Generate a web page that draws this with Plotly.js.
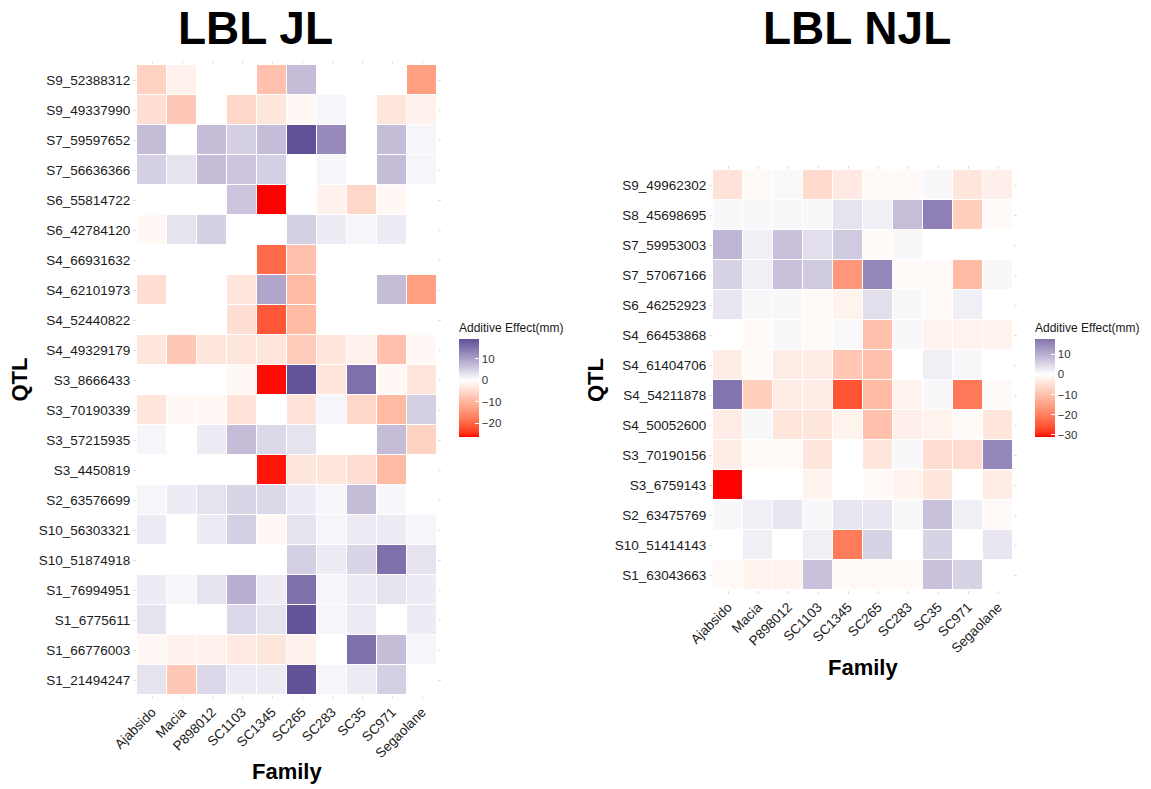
<!DOCTYPE html>
<html>
<head>
<meta charset="utf-8">
<script src="https://cdn.plot.ly/plotly-3.0.1.min.js"></script>
<style>
  html, body { margin: 0; padding: 0; background: #ffffff; }
  #chart { width: 1151px; height: 789px; }
</style>
</head>
<body>
<div id="chart"></div>
<script>
// Families (columns), shared by both panels
const families = ['Ajabsido', 'Macia', 'P898012', 'SC1103', 'SC1345', 'SC265', 'SC283', 'SC35', 'SC971', 'Segaolane'];

// LBL JL: QTL rows (top to bottom) and additive effects (mm); null = not detected
const jlQtl = [
  'S9_52388312', 'S9_49337990', 'S7_59597652', 'S7_56636366', 'S6_55814722', 'S6_42784120',
  'S4_66931632', 'S4_62101973', 'S4_52440822', 'S4_49329179', 'S3_8666433', 'S3_70190339',
  'S3_57215935', 'S3_4450819', 'S2_63576699', 'S10_56303321', 'S10_51874918', 'S1_76994951',
  'S1_6775611', 'S1_66776003', 'S1_21494247'
];
const jlEffect = [
  [-6, -2, null, null, -8.5, 7, null, null, null, -13],
  [-4.5, -7.5, null, -5.5, -3.5, -1, 1, null, -3.5, -2],
  [7, null, 7, 5, 7, 19.3, 12.5, null, 7, 1],
  [5, 3, 7, 6, 5, null, 1, null, 7, 1],
  [null, null, null, 6, -26.5, null, -2, -5.5, -1, null],
  [-1, 3, 5, null, null, 5, 2, 1, 2, null],
  [null, null, null, null, -19.5, -8.5, null, null, null, null],
  [-4.5, null, null, -3.5, 9.5, -9.5, null, null, 7, -13],
  [null, null, null, -4.5, -21.5, -9.5, null, null, null, null],
  [-3.5, -7.5, -3.5, -3.5, -3.5, -7, -3.5, -2, -8.5, -1],
  [null, null, null, -1, -26.2, 19.0, -3.5, 15.5, -1, -3.5],
  [-3.5, -1, -1, -4, null, -4, 1, -5.5, -9.5, 5],
  [1, null, 2, 7, 4, 3, null, null, 7, -6],
  [null, null, null, null, -25.9, -3.5, -3.5, -4.5, -9.5, null],
  [1, 2, 3, 4.5, 4, 2, 1, 7, 0.8, null],
  [2, null, 2, 5, -1, 3, 1, 2, 2, 1],
  [null, null, null, null, null, 5, 2, 4.5, 15.5, 3],
  [2, 1, 3, 8.5, 2, 15.5, 1, 2, 3, 2],
  [3, null, null, 4, 3, 18.8, 1, 2, null, 2],
  [-1, -2, -2, -3, -3.5, -2, null, 15.5, 7, 1],
  [3, -7.5, 4, 2, 2, 19.1, 1, 2, 5, null]
];

// LBL NJL: QTL rows (top to bottom) and additive effects (mm)
const njlQtl = [
  'S9_49962302', 'S8_45698695', 'S7_59953003', 'S7_57067166', 'S6_46252923', 'S4_66453868',
  'S4_61404706', 'S4_54211878', 'S4_50052600', 'S3_70190156', 'S3_6759143', 'S2_63475769',
  'S10_51414143', 'S1_63043663'
];
const njlEffect = [
  [-4.5, -1, 0.8, -6, -3.5, -1, -1, 1, -4, -2.5],
  [1, 1, 1, 1, 3.5, 2, 8, 16, -8, -1],
  [9, 2, 7.5, 4, 6.5, -1, 1, null, null, null],
  [5.5, 2, 7.5, 6.5, -16.5, 15, -1, -1, -11, 1],
  [3, 1, 1, -1, -2, 4, 1, -1, 2, null],
  [null, -1, 1, -1, 0.8, -10, 1, -2, -2, -2],
  [-3, -1, -3, -3, -9, -10, null, 2, 1, null],
  [17.5, -8, -3, -3, -25.5, -11, -2, 1, -21, -1],
  [-3, 1, -4, -4, -2, -10, -2.5, -2, -1, -4],
  [-3, -1, -1, -4, null, -4, 1, -5.5, -5.5, 15],
  [-31, null, null, -2, null, -1, -2, -4, null, -3],
  [1, 2, 3, 1, 3, 3, 1, 7.5, 2, -1],
  [null, 2, null, 2, -20.5, 5.5, null, 5.5, null, 3],
  [-1, -2, -2, 7.5, -1, -1, -1, 7.5, 5.5, null]
];

const jlTicks = [-20, -10, 0, 10];
const njlTicks = [-30, -20, -10, 0, 10];

// ---- diverging palette: red / white / midnightblue, interpolated in CIELAB ----
function hexToRgb(h) {
  return [parseInt(h.slice(1, 3), 16), parseInt(h.slice(3, 5), 16), parseInt(h.slice(5, 7), 16)];
}
function rgbToLab(rgb) {
  const lin = rgb.map(c => { c /= 255; return c <= 0.04045 ? c / 12.92 : Math.pow((c + 0.055) / 1.055, 2.4); });
  const X = (0.4124 * lin[0] + 0.3576 * lin[1] + 0.1805 * lin[2]) / 0.95047;
  const Y = (0.2126 * lin[0] + 0.7152 * lin[1] + 0.0722 * lin[2]);
  const Z = (0.0193 * lin[0] + 0.1192 * lin[1] + 0.9505 * lin[2]) / 1.08883;
  const f = t => t > 0.008856 ? Math.cbrt(t) : 7.787 * t + 16 / 116;
  const fx = f(X), fy = f(Y), fz = f(Z);
  return [116 * fy - 16, 500 * (fx - fy), 200 * (fy - fz)];
}
function labToRgb(lab) {
  const fy = (lab[0] + 16) / 116, fx = fy + lab[1] / 500, fz = fy - lab[2] / 200;
  const fi = t => t * t * t > 0.008856 ? t * t * t : (t - 16 / 116) / 7.787;
  const X = fi(fx) * 0.95047, Y = fi(fy), Z = fi(fz) * 1.08883;
  const lin = [
    3.2406 * X - 1.5372 * Y - 0.4986 * Z,
    -0.9689 * X + 1.8758 * Y + 0.0415 * Z,
    0.0557 * X - 0.2040 * Y + 1.0570 * Z
  ];
  return lin.map(c => {
    c = Math.min(1, Math.max(0, c));
    c = c <= 0.0031308 ? 12.92 * c : 1.055 * Math.pow(c, 1 / 2.4) - 0.055;
    return Math.round(c * 255);
  });
}
const LOW = rgbToLab(hexToRgb('#ff0000'));
const MID = rgbToLab(hexToRgb('#ffffff'));
const HIGH = rgbToLab(hexToRgb('#191970'));

function divergingScale(zmin, zmax) {
  const maxAbs = Math.max(Math.abs(zmin), Math.abs(zmax));
  const n = 48, stops = [];
  for (let i = 0; i <= n; i++) {
    const s = i / n;
    const v = zmin + s * (zmax - zmin);
    const p = v / maxAbs;
    const end = p < 0 ? LOW : HIGH;
    const t = Math.abs(p);
    const lab = MID.map((m, k) => m + (end[k] - m) * t);
    const rgb = labToRgb(lab);
    stops.push([s, 'rgb(' + rgb.join(',') + ')']);
  }
  return stops;
}
function range2d(z) {
  const flat = z.flat().filter(v => v !== null);
  return [Math.min(...flat), Math.max(...flat)];
}

// ---- layout geometry (pixels) ----
const W = 1151, H = 789;
const px = x => x / W;
const py = y => 1 - y / H;
const FONT = '"Liberation Sans", Arial, Helvetica, sans-serif';

const [jlMin, jlMax] = range2d(jlEffect);
const [njMin, njMax] = range2d(njlEffect);

function colorbar(xLeft, ticks) {
  return {
    title: { text: 'Additive Effect(mm)', side: 'top', font: { family: FONT, size: 12, color: '#1a1a1a' } },
    x: px(xLeft), xanchor: 'left', xpad: 0,
    y: py(320), yanchor: 'top', ypad: 0,
    len: 117, lenmode: 'pixels',
    thickness: 20, thicknessmode: 'pixels',
    outlinewidth: 0,
    tickmode: 'array', tickvals: ticks,
    ticks: 'inside', ticklen: 4, tickcolor: '#ffffff', tickwidth: 1,
    tickfont: { family: FONT, size: 11.5, color: '#333333' }
  };
}

const traces = [
  {
    type: 'heatmap',
    x: families, y: jlQtl, z: jlEffect,
    xaxis: 'x', yaxis: 'y',
    zmin: jlMin, zmax: jlMax,
    colorscale: divergingScale(jlMin, jlMax),
    xgap: 1, ygap: 1,
    colorbar: colorbar(459, jlTicks),
    hovertemplate: '%{y}<br>%{x}: %{z}<extra></extra>'
  },
  {
    type: 'heatmap',
    x: families, y: njlQtl, z: njlEffect,
    xaxis: 'x2', yaxis: 'y2',
    zmin: njMin, zmax: njMax,
    colorscale: divergingScale(njMin, njMax),
    xgap: 1, ygap: 1,
    colorbar: colorbar(1035, njlTicks),
    hovertemplate: '%{y}<br>%{x}: %{z}<extra></extra>'
  }
];

function xAxis(domain, anchor) {
  return {
    domain: domain, anchor: anchor,
    type: 'category',
    showgrid: false, zeroline: false, showline: false,
    ticks: 'outside', ticklen: 3, tickcolor: '#dedede', tickwidth: 1, mirror: 'ticks',
    tickangle: -45,
    tickfont: { family: FONT, size: 13.5, color: '#1a1a1a' },
    automargin: false, fixedrange: true
  };
}
function yAxis(domain, anchor) {
  return {
    domain: domain, anchor: anchor,
    type: 'category', autorange: 'reversed',
    showgrid: false, zeroline: false, showline: false,
    ticks: 'outside', ticklen: 3, tickcolor: '#dedede', tickwidth: 1, mirror: 'ticks',
    tickfont: { family: FONT, size: 13.5, color: '#1a1a1a' },
    automargin: false, fixedrange: true
  };
}

// panel titles and axis titles as text placed in figure pixels
function label(text, x, y, size, angle) {
  return {
    text: text, xref: 'paper', yref: 'paper',
    x: px(x), y: py(y), xanchor: 'center', yanchor: 'middle', showarrow: false,
    textangle: angle || 0,
    font: { family: FONT, size: size, color: '#000000', weight: 'bold' }
  };
}

const layout = {
  width: W, height: H,
  margin: { l: 0, r: 0, t: 0, b: 0 },
  paper_bgcolor: '#ffffff', plot_bgcolor: '#ffffff',
  font: { family: FONT, color: '#1a1a1a' },
  showlegend: false,
  xaxis: xAxis([px(137), px(437)], 'y'),
  yaxis: yAxis([py(695), py(65)], 'x'),
  xaxis2: xAxis([px(713), px(1013)], 'y2'),
  yaxis2: yAxis([py(590), py(170)], 'x2'),
  annotations: [
    label('LBL JL', 256, 28, 46),
    label('LBL NJL', 857, 28, 46),
    label('QTL', 18.5, 380, 22, -90),
    label('QTL', 595, 380, 22, -90),
    label('Family', 287, 771, 22),
    label('Family', 863, 667, 22)
  ]
};

Plotly.newPlot('chart', traces, layout, { displayModeBar: false, staticPlot: true });
</script>
</body>
</html>
